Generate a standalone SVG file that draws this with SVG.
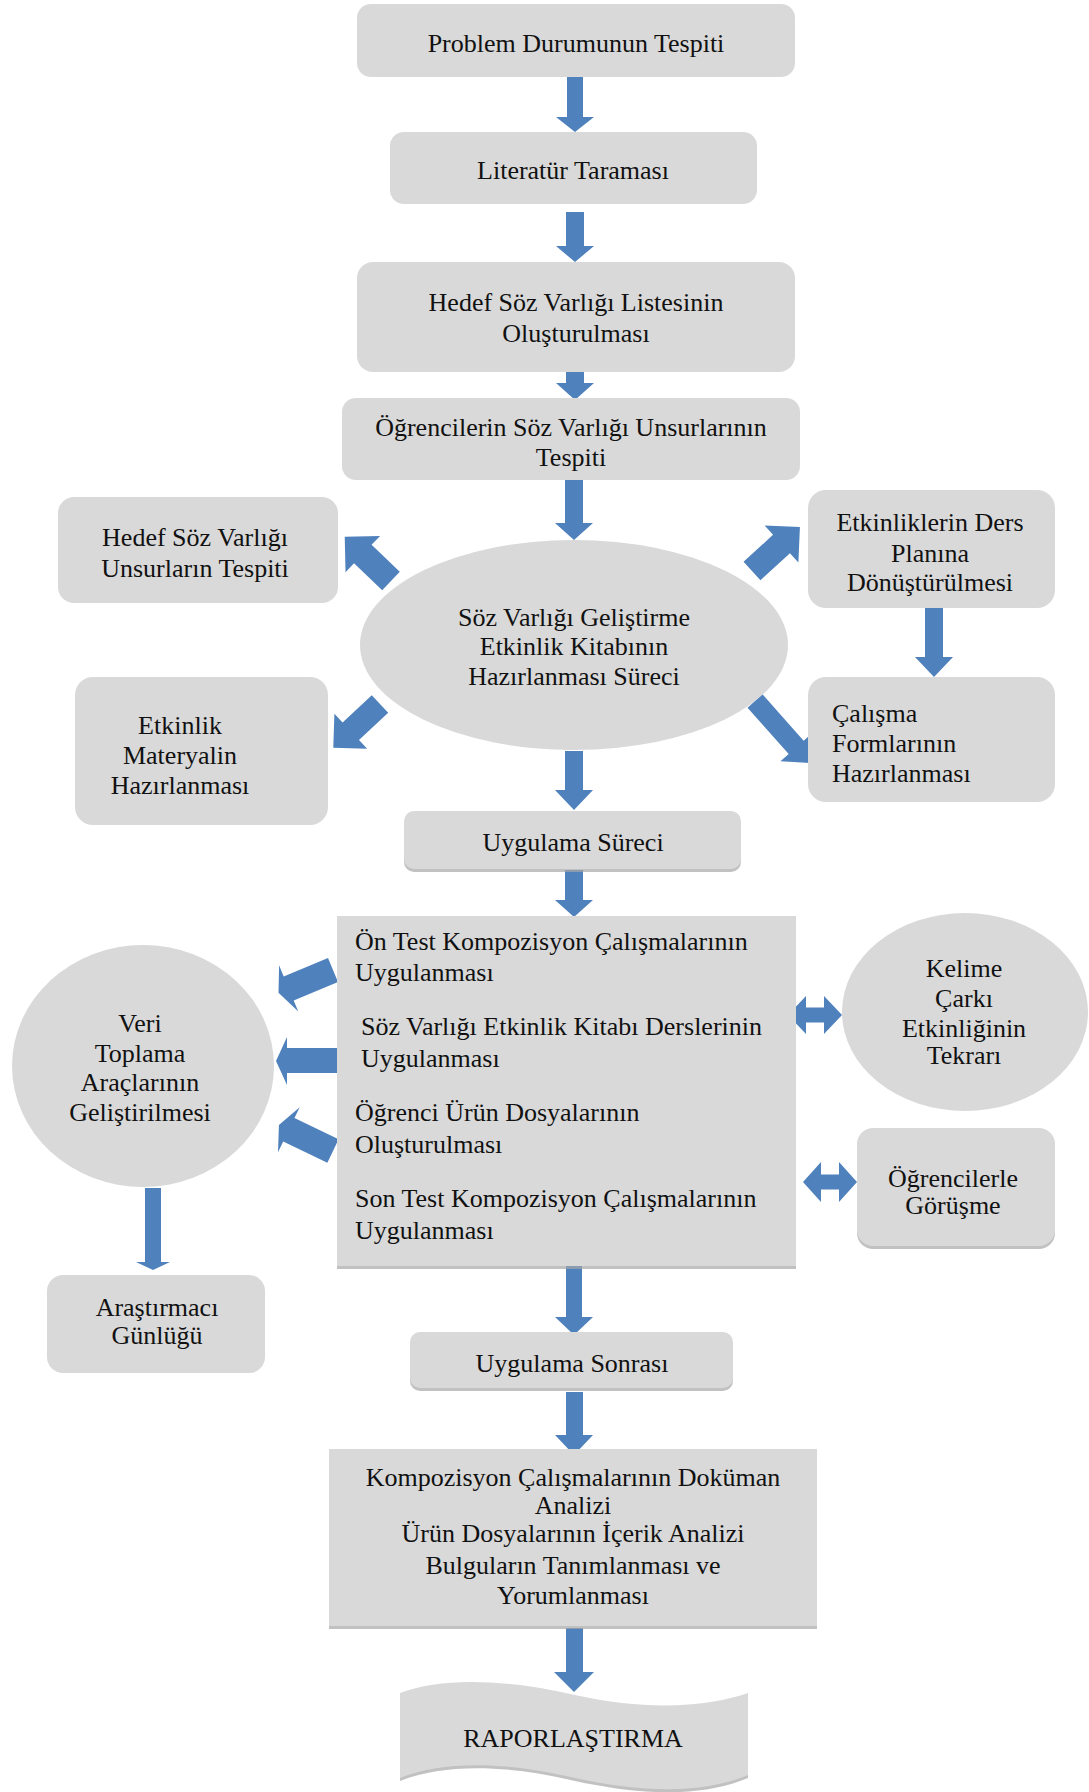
<svg xmlns="http://www.w3.org/2000/svg" width="1089" height="1792" viewBox="0 0 1089 1792">
<style>
.box{fill:#d9d9d9}
.sh{fill:#a6a6a6;opacity:0.7}
.arr{fill:#4f81bd}
.t{font-family:"Liberation Serif","Times New Roman",serif;font-size:26px;fill:#111}
.c{text-anchor:middle}
</style>
<rect width="1089" height="1792" fill="#ffffff"/>
<g id="connectors">
<polygon class="arr" points="567,77 583,77 583,117 594,117 575,132 556,117 567,117"/>
<polygon class="arr" points="566,212 584,212 584,246 594,246 575,262 556,246 566,246"/>
<polygon class="arr" points="566,372 584,372 584,383 594,383 575,400 556,383 566,383"/>
<polygon class="arr" points="565,480 583,480 583,523 593,523 574,540 555,523 565,523"/>
<polygon class="arr" points="565,751 583,751 583,790 593,790 574,810 555,790 565,790"/>
<polygon class="arr" points="565,870 583,870 583,900 593,900 574,917 555,900 565,900"/>
<polygon class="arr" points="145,1188 161,1188 161,1262 170,1262 153,1270 136,1262 145,1262"/>
<polygon class="arr" points="566,1266 582,1266 582,1317 593,1317 574,1335 555,1317 566,1317"/>
<polygon class="arr" points="566,1392 583,1392 583,1435 593,1435 574,1455 555,1435 566,1435"/>
<polygon class="arr" points="566,1628 583,1628 583,1672 594,1672 574,1692 554,1672 566,1672"/>
<polygon class="arr" points="925,608 943,608 943,657 953,657 934,677 915,657 925,657"/>
<polygon class="arr" transform="translate(391,581) rotate(-136.3)" points="0,-12.7 39,-12.7 39,-25 64,0 39,25 39,12.7 0,12.7"/>
<polygon class="arr" transform="translate(752,571) rotate(-42.5)" points="0,-12.5 40,-12.5 40,-25 65,0 40,25 40,12.5 0,12.5"/>
<polygon class="arr" transform="translate(380,704) rotate(136.9)" points="0,-12 40,-12 40,-24 64,0 40,24 40,12 0,12"/>
<polygon class="arr" transform="translate(755,701) rotate(48.4)" points="0,-10 62,-10 62,-21 83,0 62,21 62,10 0,10"/>
<polygon class="arr" transform="translate(333,970) rotate(157.4)" points="0,-13 48,-13 48,-25 59,0 48,25 48,13 0,13"/>
<polygon class="arr" points="337,1048 287,1048 287,1037 276,1061 287,1085 287,1073 337,1073"/>
<polygon class="arr" transform="translate(333,1151) rotate(205.7)" points="0,-13 49,-13 49,-25 60,0 49,25 49,13 0,13"/>
<polygon class="arr" points="788,1015 806,996 806,1007.5 824,1007.5 824,996 842,1015 824,1034 824,1022.5 806,1022.5 806,1034"/>
<polygon class="arr" points="803,1182 821,1162 821,1174.5 839,1174.5 839,1162 857,1182 839,1202 839,1189.5 821,1189.5 821,1202"/>
</g>
<g id="n1"><rect class="box" x="357" y="4" width="438" height="73" rx="14"/><text class="t c" x="576" y="52">Problem Durumunun Tespiti</text></g>
<g id="n2"><rect class="box" x="390" y="132" width="367" height="72" rx="14"/><text class="t c" x="573" y="179">Literatür Taraması</text></g>
<g id="n3"><rect class="box" x="357" y="262" width="438" height="110" rx="16"/><text class="t c" x="576" y="311">Hedef Söz Varlığı Listesinin</text><text class="t c" x="576" y="342">Oluşturulması</text></g>
<g id="n4"><rect class="box" x="342" y="398" width="458" height="82" rx="14"/><text class="t c" x="571" y="436">Öğrencilerin Söz Varlığı Unsurlarının</text><text class="t c" x="571" y="466">Tespiti</text></g>
<g id="n5"><ellipse class="box" cx="574" cy="645" rx="214" ry="105"/><text class="t c" x="574" y="626">Söz Varlığı Geliştirme</text><text class="t c" x="574" y="655">Etkinlik Kitabının</text><text class="t c" x="574" y="685">Hazırlanması Süreci</text></g>
<g id="n6"><rect class="box" x="58" y="497" width="280" height="106" rx="16"/><text class="t c" x="195" y="546">Hedef Söz Varlığı</text><text class="t c" x="195" y="577">Unsurların Tespiti</text></g>
<g id="n7"><rect class="box" x="75" y="677" width="253" height="148" rx="18"/><text class="t c" x="180" y="734">Etkinlik</text><text class="t c" x="180" y="764">Materyalin</text><text class="t c" x="180" y="794">Hazırlanması</text></g>
<g id="n8"><rect class="box" x="808" y="490" width="247" height="118" rx="18"/><text class="t c" x="930" y="531">Etkinliklerin Ders</text><text class="t c" x="930" y="562">Planına</text><text class="t c" x="930" y="591">Dönüştürülmesi</text></g>
<g id="n9"><rect class="box" x="808" y="677" width="247" height="125" rx="18"/><text class="t" x="832" y="722">Çalışma</text><text class="t" x="832" y="752">Formlarının</text><text class="t" x="832" y="782">Hazırlanması</text></g>
<g id="n10"><rect class="sh" x="404" y="814" width="337" height="58" rx="10"/><rect class="box" x="404" y="811" width="337" height="58" rx="10"/><text class="t c" x="573" y="851">Uygulama Süreci</text></g>
<g id="n11"><rect class="sh" x="337" y="919" width="459" height="350"/><rect class="box" x="337" y="916" width="459" height="350"/>
<text class="t" x="355" y="950">Ön Test Kompozisyon Çalışmalarının</text><text class="t" x="355" y="981">Uygulanması</text>
<text class="t" x="361" y="1035">Söz Varlığı Etkinlik Kitabı Derslerinin</text><text class="t" x="361" y="1067">Uygulanması</text>
<text class="t" x="355" y="1121">Öğrenci Ürün Dosyalarının</text><text class="t" x="355" y="1153">Oluşturulması</text>
<text class="t" x="355" y="1207">Son Test Kompozisyon Çalışmalarının</text><text class="t" x="355" y="1239">Uygulanması</text></g>
<g id="n12"><ellipse class="box" cx="143" cy="1066" rx="131" ry="121"/><text class="t c" x="140" y="1032">Veri</text><text class="t c" x="140" y="1062">Toplama</text><text class="t c" x="140" y="1091">Araçlarının</text><text class="t c" x="140" y="1121">Geliştirilmesi</text></g>
<g id="n13"><rect class="box" x="47" y="1275" width="218" height="98" rx="16"/><text class="t c" x="157" y="1316">Araştırmacı</text><text class="t c" x="157" y="1344">Günlüğü</text></g>
<g id="n14"><ellipse class="box" cx="965" cy="1012" rx="123" ry="99"/><text class="t c" x="964" y="977">Kelime</text><text class="t c" x="964" y="1007">Çarkı</text><text class="t c" x="964" y="1037">Etkinliğinin</text><text class="t c" x="964" y="1064">Tekrarı</text></g>
<g id="n15"><rect class="sh" x="857" y="1131" width="198" height="118" rx="16"/><rect class="box" x="857" y="1128" width="198" height="118" rx="16"/><text class="t c" x="953" y="1187">Öğrencilerle</text><text class="t c" x="953" y="1214">Görüşme</text></g>
<g id="n16"><rect class="sh" x="410" y="1335" width="323" height="56" rx="10"/><rect class="box" x="410" y="1332" width="323" height="56" rx="10"/><text class="t c" x="572" y="1372">Uygulama Sonrası</text></g>
<g id="n17"><rect class="sh" x="329" y="1452" width="488" height="177"/><rect class="box" x="329" y="1449" width="488" height="177"/>
<text class="t c" x="573" y="1486">Kompozisyon Çalışmalarının Doküman</text><text class="t c" x="573" y="1514">Analizi</text><text class="t c" x="573" y="1542">Ürün Dosyalarının İçerik Analizi</text><text class="t c" x="573" y="1574">Bulguların Tanımlanması  ve</text><text class="t c" x="573" y="1604">Yorumlanması</text></g>
<g id="n18"><path class="sh" transform="translate(0,3)" d="M400,1693 C440,1678 500,1678 575,1695 C650,1712 710,1706 748,1693 L748,1775 C700,1795 640,1792 575,1778 C500,1760 440,1762 400,1778 Z"/><path class="box" d="M400,1693 C440,1678 500,1678 575,1695 C650,1712 710,1706 748,1693 L748,1775 C700,1795 640,1792 575,1778 C500,1760 440,1762 400,1778 Z"/><text class="t c" x="573" y="1747">RAPORLAŞTIRMA</text></g>
</svg>
